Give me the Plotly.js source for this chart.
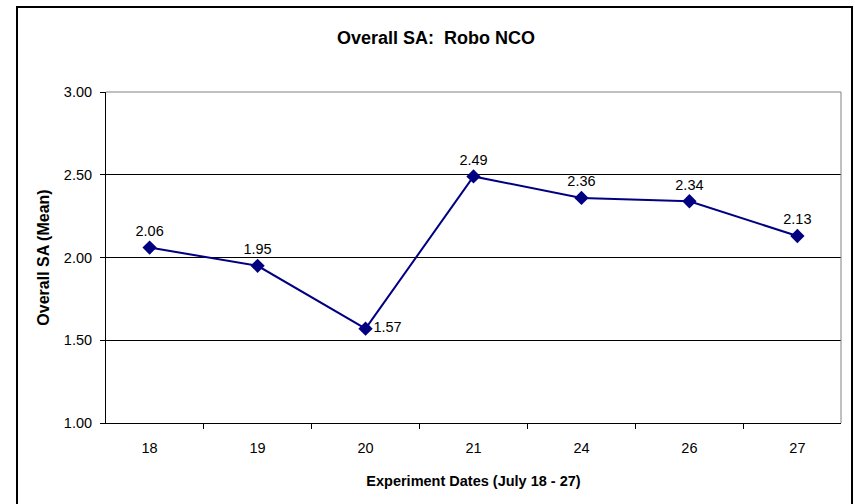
<!DOCTYPE html>
<html>
<head>
<meta charset="utf-8">
<script src="https://cdn.plot.ly/plotly-3.0.1.min.js"></script>
<style>
html,body{margin:0;padding:0;background:#fff;}
#chart{width:855px;height:504px;}
</style>
</head>
<body>
<div id="chart"></div>
<script>
const categories = ["18", "19", "20", "21", "24", "26", "27"];
const meanSA = [2.06, 1.95, 1.57, 2.49, 2.36, 2.34, 2.13];
const labelText = ["2.06", "1.95", "1.57", "2.49", "2.36", "2.34", "2.13"];
const labelPos = ["top center", "top center", "middle right", "top center", "top center", "top center", "top center"];

const FONT = "Liberation Sans, Arial, sans-serif";

const trace = {
  type: "scatter",
  mode: "lines+markers+text",
  x: categories,
  y: meanSA,
  text: labelText,
  textposition: labelPos,
  textfont: {family: FONT, size: 14.5, color: "#000"},
  line: {color: "#000080", width: 2},
  marker: {symbol: "diamond", size: 11, color: "#000080"},
  cliponaxis: false,
  hoverinfo: "x+y"
};

const layout = {
  width: 855,
  height: 504,
  margin: {l: 106, r: 14, t: 92, b: 81},
  paper_bgcolor: "#fff",
  plot_bgcolor: "#fff",
  showlegend: false,
  title: {
    text: "<b>Overall SA:  Robo NCO</b>",
    font: {family: FONT, size: 18, color: "#000"},
    x: 0.51, xanchor: "center",
    y: 0.926, yanchor: "middle"
  },
  xaxis: {
    type: "category",
    tickson: "boundaries",
    ticks: "outside",
    ticklen: 5,
    tickcolor: "#000",
    ticklabelstandoff: 12,
    showline: true,
    linecolor: "#000",
    linewidth: 1,
    showgrid: false,
    zeroline: false,
    tickfont: {family: FONT, size: 14.5, color: "#000"},
    title: {text: "<b>Experiment Dates (July 18 - 27)</b>", font: {family: FONT, size: 14.5, color: "#000"}, standoff: 20}
  },
  yaxis: {
    range: [1, 3],
    dtick: 0.5,
    tickformat: ".2f",
    ticks: "outside",
    ticklen: 5,
    tickcolor: "#000",
    ticklabelstandoff: 5,
    showline: true,
    linecolor: "#000",
    linewidth: 1,
    showgrid: true,
    gridcolor: "#000",
    gridwidth: 1,
    zeroline: false,
    tickfont: {family: FONT, size: 14.5, color: "#000"},
    title: {text: "<b>Overall SA (Mean)</b>", font: {family: FONT, size: 16, color: "#000"}, standoff: 10}
  },
  shapes: [
    {type: "line", xref: "paper", yref: "paper", x0: 1, x1: 1, y0: 0, y1: 1,
     line: {color: "#808080", width: 1}, layer: "above"},
    {type: "line", xref: "paper", yref: "paper", x0: 0, x1: 1, y0: 1, y1: 1,
     line: {color: "#808080", width: 1}, layer: "above"}
  ]
};

Plotly.newPlot("chart", [trace], layout, {displayModeBar: false, staticPlot: true}).then(function(){
  // outer chart-area frame
  const svg = document.querySelector("#chart .main-svg");
  const ns = "http://www.w3.org/2000/svg";
  const r = document.createElementNS(ns, "rect");
  r.setAttribute("x", 17); r.setAttribute("y", 7);
  r.setAttribute("width", 835); r.setAttribute("height", 505);
  r.setAttribute("fill", "none"); r.setAttribute("stroke", "#000"); r.setAttribute("stroke-width", 2);
  svg.appendChild(r);
});
</script>
</body>
</html>
